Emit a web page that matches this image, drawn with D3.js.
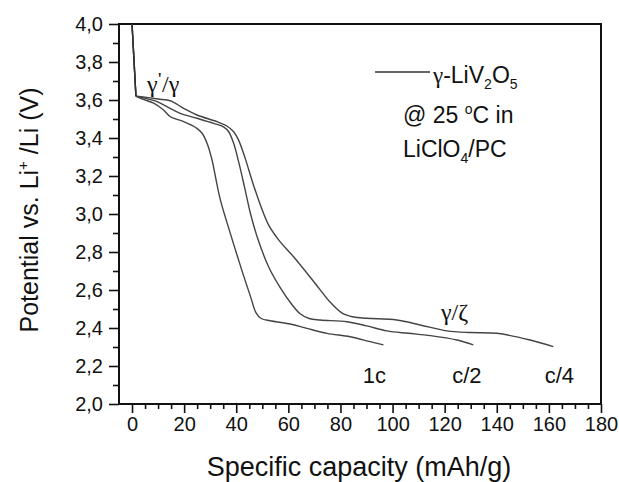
<!DOCTYPE html>
<html><head><meta charset="utf-8">
<script src="https://cdn.jsdelivr.net/npm/d3@7"></script>
<style>body{margin:0;background:#fff}svg{display:block}</style>
</head><body>
<svg id="c" width="619" height="482"></svg>
<script>
// ---- data ----
const seriesNames = ["1c", "c/2", "c/4"];
const curve1c = [[0,4.0],[1.5,3.62],[4,3.605],[8.3,3.583],[12.1,3.547],[14.7,3.512],[19.8,3.486],[24.9,3.451],[26.9,3.425],[28.8,3.372],[30.7,3.284],[32.4,3.17],[33.9,3.074],[37.9,2.89],[42.0,2.71],[45.6,2.56],[47.6,2.48],[49.6,2.45],[53.0,2.438],[60.7,2.421],[67.1,2.398],[74.8,2.372],[83.7,2.354],[91.4,2.328],[96.5,2.311]];
const curveC2 = [[0,4.0],[1.5,3.62],[4,3.612],[9.6,3.591],[13.4,3.565],[18.5,3.530],[24.9,3.504],[31.3,3.477],[35.1,3.459],[37.1,3.433],[39.0,3.372],[41.0,3.27],[43.2,3.14],[45.5,3.0],[48.5,2.86],[52.5,2.72],[57.0,2.61],[61.0,2.53],[64.5,2.475],[68.0,2.45],[72.2,2.442],[82.5,2.433],[90.1,2.411],[97.8,2.385],[106,2.372],[114.5,2.36],[124.7,2.337],[131,2.311]];
const curveC4 = [[0,4.0],[1.5,3.62],[5,3.615],[10,3.605],[14.7,3.596],[19.8,3.556],[24.9,3.521],[32.6,3.486],[36.4,3.463],[39.0,3.433],[40.9,3.389],[43.5,3.29],[46.2,3.17],[49.2,3.05],[52.5,2.94],[56.5,2.86],[62.0,2.775],[69.7,2.645],[76.1,2.535],[80.5,2.48],[85.0,2.458],[90.1,2.451],[101.6,2.442],[110.6,2.416],[120.8,2.385],[130,2.376],[140,2.372],[152.8,2.337],[161.7,2.302]];
const curves = [curve1c, curveC2, curveC4];
const xTicks = [0,20,40,60,80,100,120,140,160,180];
const yTicks = [2.0,2.2,2.4,2.6,2.8,3.0,3.2,3.4,3.6,3.8,4.0];
const xLabel = "Specific capacity (mAh/g)";
const rateLabels = [{t:"1c", x:93}, {t:"c/2", x:128.5}, {t:"c/4", x:164}];

// ---- layout ----
const svg = d3.select("#c");
const L = 119, R = 601, T = 24, B = 404;
const x = d3.scaleLinear().domain([-5,180]).range([L,R]);
const y = d3.scaleLinear().domain([2,4]).range([B,T]);
const sans = "'Liberation Sans', Arial, sans-serif";
const serif = "'Liberation Serif', 'Times New Roman', serif";

// axes
const xMinor = d3.range(0,181,5).filter(v => v % 20 !== 0);
const yMinor = d3.range(2.1,4.0,0.2);
const xa = svg.append("g").attr("transform",`translate(0,${B})`)
  .call(d3.axisBottom(x).tickValues(xTicks).tickSize(9).tickPadding(4).tickFormat(d3.format("d")));
svg.append("g").attr("transform",`translate(0,${B})`)
  .call(d3.axisBottom(x).tickValues(xMinor).tickSize(5).tickFormat(""));
const ya = svg.append("g").attr("transform",`translate(${L},0)`)
  .call(d3.axisLeft(y).tickValues(yTicks).tickSize(10).tickPadding(6).tickFormat(d => d3.format(".1f")(d).replace(".",",")));
svg.append("g").attr("transform",`translate(${L},0)`)
  .call(d3.axisLeft(y).tickValues(yMinor).tickSize(6).tickFormat(""));
svg.selectAll(".domain").remove();
svg.selectAll(".tick line").attr("stroke","#111").attr("stroke-width",1.6);
svg.selectAll(".tick text").attr("font-family",sans).attr("font-size",20).attr("fill","#111");
xa.selectAll(".tick text").attr("dy","0.71em");

// frame
svg.append("rect").attr("x",L).attr("y",T).attr("width",R-L).attr("height",B-T)
  .attr("fill","none").attr("stroke","#111").attr("stroke-width",2);

// curves
const line = d3.line().x(d=>x(d[0])).y(d=>y(d[1])).curve(d3.curveCatmullRom.alpha(0.5));
const lineFirst = d3.line().x(d=>x(d[0])).y(d=>y(d[1])).curve(d3.curveLinear);
curves.forEach(c => {
  svg.append("path").attr("d", lineFirst(c.slice(0,2)) )
    .attr("fill","none").attr("stroke","#333").attr("stroke-width",1.4);
  svg.append("path").attr("d", line(c.slice(1)))
    .attr("fill","none").attr("stroke","#444").attr("stroke-width",1.4);
});

// axis titles
svg.append("text").attr("x",359).attr("y",476).attr("text-anchor","middle")
  .attr("font-family",sans).attr("font-size",27).attr("fill","#111").text(xLabel);
const yl = svg.append("text").attr("transform","translate(38,210) rotate(-90)").attr("text-anchor","middle")
  .attr("font-family",sans).attr("font-size",25).attr("fill","#111");
yl.append("tspan").text("Potential vs. Li");
yl.append("tspan").attr("font-size",15).attr("dy",-10).text("+");
yl.append("tspan").attr("dy",10).text(" /Li (V)");

// legend
svg.append("line").attr("x1",375).attr("x2",430).attr("y1",72).attr("y2",72)
  .attr("stroke","#333").attr("stroke-width",1.3);
const lg = svg.append("text").attr("x",433).attr("y",83).attr("font-family",sans).attr("font-size",23).attr("fill","#111");
lg.append("tspan").attr("font-family",serif).text("γ");
lg.append("tspan").text("-LiV");
lg.append("tspan").attr("font-size",14).attr("dy",6).text("2");
lg.append("tspan").attr("dy",-6).text("O");
lg.append("tspan").attr("font-size",14).attr("dy",6).text("5");
const l2 = svg.append("text").attr("x",403).attr("y",123).attr("font-family",sans).attr("font-size",23).attr("fill","#111");
l2.append("tspan").text("@ 25 ");
l2.append("tspan").attr("font-size",14).attr("dy",-9).text("o");
l2.append("tspan").attr("dy",9).text("C in");
const l3 = svg.append("text").attr("x",403).attr("y",157).attr("font-family",sans).attr("font-size",23).attr("fill","#111");
l3.append("tspan").text("LiClO");
l3.append("tspan").attr("font-size",14).attr("dy",6).text("4");
l3.append("tspan").attr("dy",-6).text("/PC");

// phase labels
const g1 = svg.append("text").attr("x",147).attr("y",92).attr("font-family",serif).attr("font-size",24).attr("fill","#111");
g1.append("tspan").text("γ");
g1.append("tspan").attr("font-weight","bold").attr("font-size",16).attr("dy",-8).text("'");
g1.append("tspan").attr("dy",8).text("/γ");
svg.append("text").attr("x",441).attr("y",320).attr("font-family",serif).attr("font-size",24).attr("fill","#111").text("γ/ζ");

// rate labels
svg.selectAll("text.rate").data(rateLabels).join("text").attr("class","rate")
  .attr("x",d=>x(d.x)).attr("y",383).attr("text-anchor","middle")
  .attr("font-family",sans).attr("font-size",22).attr("fill","#111").text(d=>d.t);
</script>
</body></html>
